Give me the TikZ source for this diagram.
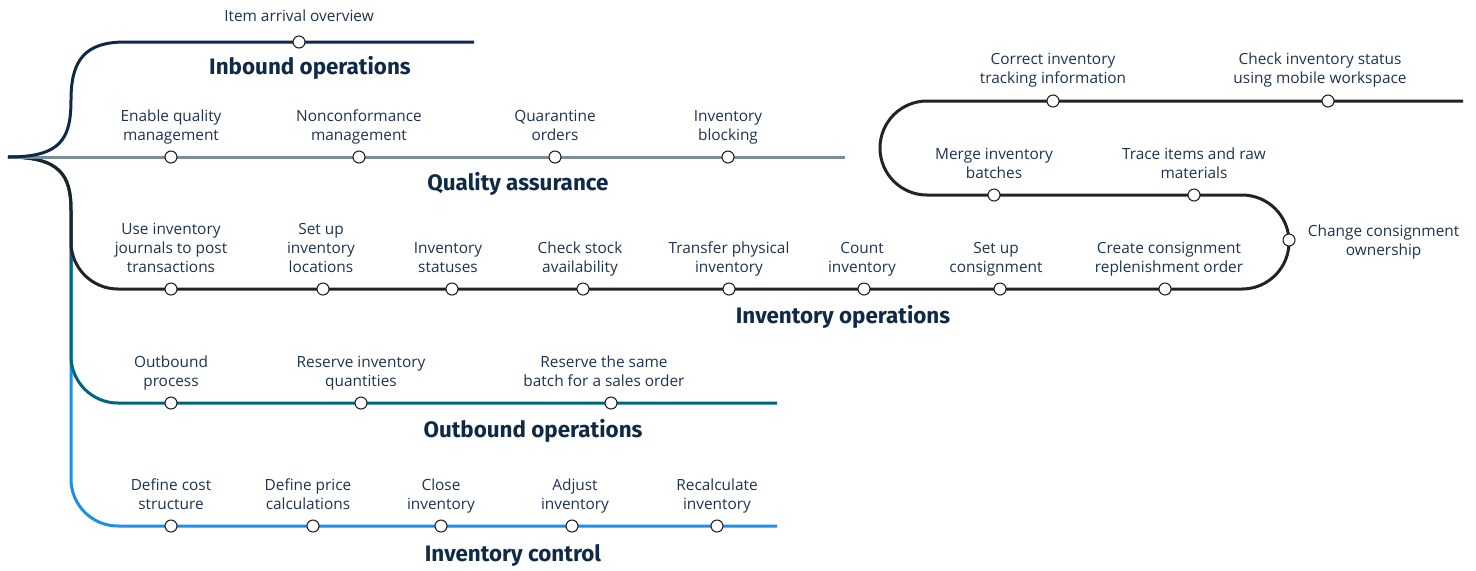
\documentclass[tikz,border=0pt]{standalone}
\usepackage{fontspec}
\setmainfont{Open Sans}
\newfontfamily\titlefont{Fira Sans}
\usetikzlibrary{positioning}
\definecolor{navy}{HTML}{0F2A47}
\definecolor{qagray}{HTML}{7D8D99}
\definecolor{opsblack}{HTML}{232323}
\definecolor{outteal}{HTML}{00667F}
\definecolor{ctrlblue}{HTML}{1C8FE8}
\definecolor{labeltext}{HTML}{1E3350}

\begin{document}
\begin{tikzpicture}[x=0.5pt, y=-0.5pt,
                track/.style={line width=1.5pt},
                stop/.style={circle, draw=opsblack, fill=white, line width=0.55pt, minimum size=6pt, inner sep=0pt},
                lbl/.style={font=\fontsize{7.7}{9.5}\selectfont, text=labeltext, align=center, inner sep=0pt, text depth=1.8pt},
                ttl/.style={font=\titlefont\bfseries\fontsize{11.2}{13}\selectfont, text=navy, inner sep=0pt},
            ]
                \useasboundingbox (0,0) rectangle (1476,570);

                % Fixed points of the tracks
                \coordinate (root) at (8,157);
                \coordinate (inend) at (474,42);
                \coordinate (qaend) at (845,157);
                \coordinate (opsend) at (1463,101);
                \coordinate (outend) at (777,403);
                \coordinate (ctlend) at (777,526);

                % Tracks (drawn bottom to top)
                \draw[track, ctrlblue] (root) .. controls (60,157) and (71,175) .. (71,210)
                    -- (71,479) .. controls (71,505) and (92,526) .. (118,526) -- (ctlend);
                \draw[track, outteal] (root) .. controls (60,157) and (71,175) .. (71,210)
                    -- (71,356) .. controls (71,382) and (92,403) .. (118,403) -- (outend);
                \draw[track, opsblack] (root) .. controls (60,157) and (71,175) .. (71,210)
                    -- (71,242) .. controls (71,268) and (92,289) .. (118,289) -- (1242,289)
                    .. controls (1268,289) and (1289,268) .. (1289,242)
                    .. controls (1289,216) and (1268,195) .. (1242,195) -- (927,195)
                    .. controls (901,195) and (880,174) .. (880,148)
                    .. controls (880,122) and (901,101) .. (927,101) -- (opsend);
                \draw[track, qagray] (root) -- (qaend);
                \draw[track, navy] (root) .. controls (60,157) and (71,140) .. (71,100)
                    .. controls (71,60) and (85,42) .. (125,42) -- (inend);

                % Inbound operations
                \node[stop] (in1) at (299,42) {};
                \node[lbl, above=5pt of in1] {Item arrival overview};
                \node[ttl] (inttl) at (310,68) {Inbound operations};

                % Quality assurance
                \node[stop] (qa1) at (171,157) {};
                \node[stop] (qa2) at (359,157) {};
                \node[stop] (qa3) at (555,157) {};
                \node[stop] (qa4) at (728,157) {};
                \node[lbl, above=2.8pt of qa1] {Enable quality\\management};
                \node[lbl, above=2.8pt of qa2] {Nonconformance\\management};
                \node[lbl, above=2.8pt of qa3] {Quarantine\\orders};
                \node[lbl, above=2.8pt of qa4] {Inventory\\blocking};
                \node[ttl] (qattl) at (518,184) {Quality assurance};

                % Inventory operations
                \node[stop] (ops1) at (171,289) {};
                \node[stop] (ops2) at (323,289) {};
                \node[stop] (ops3) at (452,289) {};
                \node[stop] (ops4) at (583,289) {};
                \node[stop] (ops5) at (729,289) {};
                \node[stop] (ops6) at (864,289) {};
                \node[stop] (ops7) at (1000,289) {};
                \node[stop] (ops8) at (1165,289) {};
                \node[stop] (ops9) at (1289,240) {};
                \node[stop] (ops10) at (1194,195) {};
                \node[stop] (ops11) at (994,195) {};
                \node[stop] (ops12) at (1053,101) {};
                \node[stop] (ops13) at (1328,101) {};
                \node[lbl, above=2.8pt of ops1] {Use inventory\\journals to post\\transactions};
                \node[lbl, above=2.8pt of ops2, xshift=-1pt] {Set up\\inventory\\locations};
                \node[lbl, above=2.8pt of ops3, xshift=-2pt] {Inventory\\statuses};
                \node[lbl, above=2.8pt of ops4, xshift=-1.5pt] {Check stock\\availability};
                \node[lbl, above=2.8pt of ops5] {Transfer physical\\inventory};
                \node[lbl, above=2.8pt of ops6, xshift=-1pt] {Count\\inventory};
                \node[lbl, above=2.8pt of ops7, xshift=-2pt] {Set up\\consignment};
                \node[lbl, above=2.8pt of ops8, xshift=2pt] {Create consignment\\replenishment order};
                \node[lbl, right=6pt of ops9, text depth=0pt] {Change consignment\\ownership};
                \node[lbl, above=2.8pt of ops10] {Trace items and raw\\materials};
                \node[lbl, above=2.8pt of ops11] {Merge inventory\\batches};
                \node[lbl, above=3.5pt of ops12] {Correct inventory\\tracking information};
                \node[lbl, above=3.5pt of ops13, xshift=-4pt] {Check inventory status\\using mobile workspace};
                \node[ttl] (opsttl) at (843,317) {Inventory operations};

                % Outbound operations
                \node[stop] (out1) at (171,403) {};
                \node[stop] (out2) at (361,403) {};
                \node[stop] (out3) at (611,403) {};
                \node[lbl, above=2.8pt of out1] {Outbound\\process};
                \node[lbl, above=2.8pt of out2] {Reserve inventory\\quantities};
                \node[lbl, above=2.8pt of out3, xshift=-3.5pt] {Reserve the same\\batch for a sales order};
                \node[ttl] (outttl) at (533,431) {Outbound operations};

                % Inventory control
                \node[stop] (ctl1) at (171,526) {};
                \node[stop] (ctl2) at (313,526) {};
                \node[stop] (ctl3) at (441,526) {};
                \node[stop] (ctl4) at (572,526) {};
                \node[stop] (ctl5) at (717,526) {};
                \node[lbl, above=2.8pt of ctl1] {Define cost\\structure};
                \node[lbl, above=2.8pt of ctl2, xshift=-2.5pt] {Define price\\calculations};
                \node[lbl, above=2.8pt of ctl3] {Close\\inventory};
                \node[lbl, above=2.8pt of ctl4, xshift=1.5pt] {Adjust\\inventory};
                \node[lbl, above=2.8pt of ctl5] {Recalculate\\inventory};
                \node[ttl] (ctlttl) at (513,555) {Inventory control};
            \end{tikzpicture}
\end{document}
